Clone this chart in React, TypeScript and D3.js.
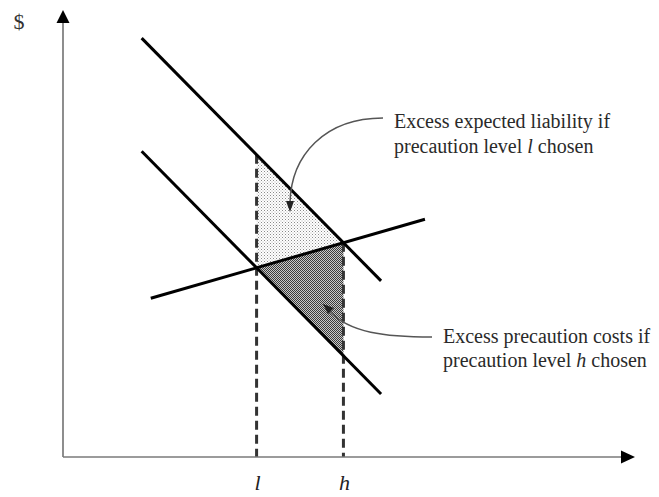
import React from "react";
import * as d3 from "d3";

// Conceptual lines (data units; x: precaution level, y: $)
const upperLiability = [
  { x: 13.8, y: 93.7 },
  { x: 55.8, y: 39.4 },
];
const lowerLiability = [
  { x: 13.8, y: 68.4 },
  { x: 55.8, y: 14.1 },
];
const precautionCost = [
  { x: 15.4, y: 35.5 },
  { x: 63.5, y: 53.2 },
];
const xTickLabels = ["l", "h"];
const yAxisLabel = "$";
const upperNote = ["Excess expected liability if", "precaution level ", "l", " chosen"];
const lowerNote = ["Excess precaution costs if", "precaution level ", "h", " chosen"];

type P = { x: number; y: number };

function lineAt(line: P[], x: number) {
  const [a, b] = line;
  return a.y + ((b.y - a.y) / (b.x - a.x)) * (x - a.x);
}
function intersect(l1: P[], l2: P[]) {
  const s1 = (l1[1].y - l1[0].y) / (l1[1].x - l1[0].x);
  const s2 = (l2[1].y - l2[0].y) / (l2[1].x - l2[0].x);
  const c1 = l1[0].y - s1 * l1[0].x;
  const c2 = l2[0].y - s2 * l2[0].x;
  const x = (c2 - c1) / (s1 - s2);
  return { x, y: s1 * x + c1 };
}

export default function App() {
  const W = 659;
  const H = 497;
  const x = d3.scaleLinear().domain([0, 100]).range([63, 633]);
  const y = d3.scaleLinear().domain([0, 100]).range([457, 10]);
  const line = d3
    .line<P>()
    .x((d) => x(d.x))
    .y((d) => y(d.y));

  const pl = intersect(lowerLiability, precautionCost);
  const ph = intersect(upperLiability, precautionCost);
  const lightPoly: P[] = [
    { x: pl.x, y: lineAt(upperLiability, pl.x) },
    ph,
    pl,
  ];
  const darkPoly: P[] = [pl, ph, { x: ph.x, y: lineAt(lowerLiability, ph.x) }];
  const poly = (pts: P[]) => line(pts) + "Z";

  const serif = "'Liberation Serif', 'DejaVu Serif', serif";
  const axisColor = "#7a7a7a";
  const textColor = "#2a2a2a";

  return (
    <svg
      width={W}
      height={H}
      style={{ position: "absolute", left: 0, top: 0, background: "#fff" }}
    >
      <defs>
        <pattern id="lightDots" width="3" height="3" patternUnits="userSpaceOnUse">
          <rect width="3" height="3" fill="#fff" />
          <rect width="1" height="1" fill="#8a8a8a" />
          <rect x="1.5" y="1.5" width="1" height="1" fill="#b0b0b0" />
        </pattern>
        <pattern id="darkDots" width="2" height="2" patternUnits="userSpaceOnUse">
          <rect width="2" height="2" fill="#c8c8c8" />
          <rect width="1" height="1" fill="#3a3a3a" />
          <rect x="1" y="1" width="1" height="1" fill="#3a3a3a" />
        </pattern>
      </defs>

      {/* shaded areas */}
      <path d={poly(lightPoly)} fill="url(#lightDots)" />
      <path d={poly(darkPoly)} fill="url(#darkDots)" />

      {/* dashed verticals */}
      <line
        x1={x(pl.x)}
        x2={x(pl.x)}
        y1={y(lineAt(upperLiability, pl.x))}
        y2={y(0)}
        stroke="#333"
        strokeWidth={3}
        strokeDasharray="9 5"
      />
      <line
        x1={x(ph.x)}
        x2={x(ph.x)}
        y1={y(ph.y)}
        y2={y(0)}
        stroke="#333"
        strokeWidth={3}
        strokeDasharray="9 5"
      />

      {/* main lines */}
      {[upperLiability, lowerLiability, precautionCost].map((l, i) => (
        <path key={i} d={line(l) || ""} stroke="#000" strokeWidth={3} fill="none" />
      ))}

      {/* axes */}
      <line x1={x(0)} x2={x(0)} y1={y(0)} y2={22} stroke={axisColor} strokeWidth={1.7} />
      <path d={`M${x(0)},10 L${x(0) - 6.5},23 L${x(0) + 6.5},23 Z`} fill="#000" />
      <line x1={x(0)} x2={621} y1={y(0)} y2={y(0)} stroke={axisColor} strokeWidth={1.7} />
      <path d={`M635,${y(0)} L621,${y(0) - 6.5} L621,${y(0) + 6.5} Z`} fill="#000" />

      <text x={19} y={29} fontFamily={serif} fontSize={22} textAnchor="middle" fill="#333">
        {yAxisLabel}
      </text>

      {[pl.x, ph.x].map((v, i) => (
        <text
          key={i}
          x={x(v) + 1}
          y={490}
          fontFamily={serif}
          fontSize={22}
          fontStyle="italic"
          textAnchor="middle"
          fill="#222"
        >
          {xTickLabels[i]}
        </text>
      ))}

      {/* annotation arrows */}
      <path d="M383,118 C325,118 291,155 290,203" stroke="#555" strokeWidth={1.5} fill="none" />
      <path d="M290,212 L286,201 L294,201 Z" fill="#222" />
      <path d="M432,337 C385,337 350,333 329,311" stroke="#555" strokeWidth={1.5} fill="none" />
      <path d="M323,304 L334,308 L328,314 Z" fill="#222" />

      {/* annotation texts */}
      <text x={394} y={128} fontFamily={serif} fontSize={20} fill={textColor}>
        {upperNote[0]}
      </text>
      <text x={394} y={153} fontFamily={serif} fontSize={20} fill={textColor}>
        {upperNote[1]}
        <tspan fontStyle="italic">{upperNote[2]}</tspan>
        {upperNote[3]}
      </text>
      <text x={443} y={343} fontFamily={serif} fontSize={20} fill={textColor}>
        {lowerNote[0]}
      </text>
      <text x={443} y={367} fontFamily={serif} fontSize={20} fill={textColor}>
        {lowerNote[1]}
        <tspan fontStyle="italic">{lowerNote[2]}</tspan>
        {lowerNote[3]}
      </text>
    </svg>
  );
}
